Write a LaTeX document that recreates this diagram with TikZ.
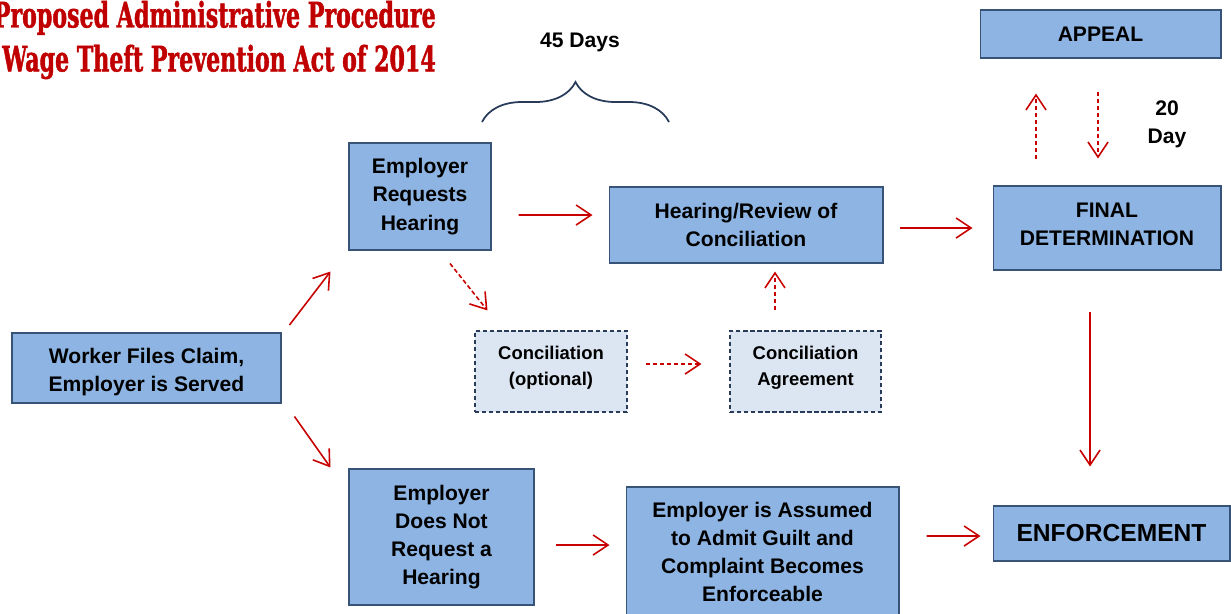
\documentclass[tikz,border=0pt]{standalone}
\usepackage{fontspec}
\setmainfont{Liberation Sans}
\newfontfamily\slabfont[FakeStretch=0.63, FakeBold=1.2]{DejaVu Serif}
\usetikzlibrary{arrows.meta,decorations.pathreplacing}
\definecolor{boxblue}{RGB}{141,180,226}
\definecolor{boxline}{RGB}{56,83,120}
\definecolor{paleblue}{RGB}{220,230,242}
\definecolor{dashline}{RGB}{40,60,90}
\definecolor{flowred}{RGB}{200,0,0}
\definecolor{titlered}{RGB}{192,0,0}
\newcommand\nudge[2]{\raisebox{#1}[\height][\depth]{\begin{tabular}{@{}c@{}}#2\end{tabular}}}
\tikzset{
  stepbox/.style = {draw=boxline, fill=boxblue, line width=0.6pt, align=center,
    inner sep=0pt, font=\bfseries\fontsize{12}{16}\selectfont},
  optbox/.style = {stepbox, draw=dashline, fill=paleblue,
    dash pattern=on 2.5pt off 1.5pt,
    font=\bfseries\fontsize{10.5}{14.7}\selectfont},% optional step
  flow/.style = {draw=flowred, line width=0.9pt,
    -{Straight Barb[length=0.3cm, width=0.4cm, line width=0.9pt]}},
  optflow/.style = {flow, dash pattern=on 2.5pt off 1.5pt},% optional path
  daylabel/.style = {align=center, font=\bfseries\fontsize{12}{16}\selectfont}
}

\begin{document}
\begin{tikzpicture}[x=0.02cm, y=-0.02cm]
  \useasboundingbox (0,0) rectangle (1231,613);

  \node[anchor=east, align=right, text=titlered,
        font=\slabfont\bfseries\fontsize{20}{25}\selectfont] (title)
        at (442,40) {Proposed Administrative Procedure\\Wage Theft Prevention Act of 2014};

  % main steps
  \node[stepbox, minimum width=5.38cm, minimum height=1.4cm] (worker) at (146.5,368)
        {\nudge{-2.3pt}{Worker Files Claim,\\Employer is Served}};
  \node[stepbox, minimum width=2.84cm, minimum height=2.14cm] (erh) at (420,196.5)
        {Employer\\Requests\\Hearing};
  \node[stepbox, minimum width=5.48cm, minimum height=1.52cm] (hear) at (746,225)
        {Hearing/Review of\\Conciliation};
  \node[stepbox, minimum width=4.56cm, minimum height=1.68cm] (final) at (1107,228)
        {\nudge{1.2pt}{FINAL\\DETERMINATION}};
  \node[stepbox, minimum width=4.82cm, minimum height=0.96cm] (appeal) at (1100.5,34)
        {APPEAL};
  \node[stepbox, minimum width=3.7cm, minimum height=2.72cm] (ednr) at (441.5,537)
        {Employer\\Does Not\\Request a\\Hearing};
  \node[stepbox, minimum width=5.46cm, minimum height=2.6cm] (assumed) at (762.5,552)
        {Employer is Assumed\\to Admit Guilt and\\Complaint Becomes\\Enforceable};
  \node[stepbox, minimum width=4.74cm, minimum height=1.1cm,
        font=\bfseries\fontsize{14}{17}\selectfont] (enf) at (1111.5,533.5)
        {ENFORCEMENT};

  % optional conciliation
  \node[optbox, minimum width=3.04cm, minimum height=1.62cm] (concil) at (551,371.5)
        {\nudge{2.3pt}{Conciliation\\(optional)}};
  \node[optbox, minimum width=3.02cm, minimum height=1.62cm] (agree) at (805.5,371.5)
        {\nudge{2.3pt}{Conciliation\\Agreement}};

  % time limits
  \draw[draw=dashline, line width=1pt, decorate,
        decoration={brace, amplitude=0.8cm}] (482,122) coordinate (brl) -- (669,122) coordinate (brr);
  \node[daylabel] (days45) at (580,42) {45 Days};
  \node[daylabel] (days20) at (1167,124) {20\\Day};

  % connectors
  \draw[flow] ([shift={(8,-43)}]worker.east) -- ([shift={(-18,21)}]erh.south west);
  \draw[flow] ([shift={(13,13)}]worker.south east) -- ([shift={(-18,-1)}]ednr.north west);
  \draw[flow] ([shift={(27,18.5)}]erh.east) -- ([shift={(-16,-10)}]hear.west);
  \draw[flow] ([shift={(16,3)}]hear.east) -- ([shift={(-20,0)}]final.west);
  \draw[flow] ([shift={(-17,41)}]final.south) -- ([shift={(-21.5,-39)}]enf.north);
  \draw[flow] ([shift={(21,8)}]ednr.east) -- ([shift={(-16,-7)}]assumed.west);
  \draw[flow] ([shift={(27,-16)}]assumed.east) -- ([shift={(-12,2.5)}]enf.west);

  \draw[optflow] ([shift={(30,13)}]erh.south) -- ([shift={(13,-20)}]concil.north west);
  \draw[optflow] ([shift={(18,-7.5)}]concil.east) -- ([shift={(-28,-7.5)}]agree.west);
  \draw[optflow] ([shift={(-30.5,-20)}]agree.north) -- ([shift={(29,8)}]hear.south);
  \draw[optflow] ([shift={(-71,-26)}]final.north) -- ([shift={(-64.5,35)}]appeal.south);
  \draw[optflow] ([shift={(-2.5,33)}]appeal.south) -- ([shift={(-9,-27)}]final.north);
\end{tikzpicture}
\end{document}
